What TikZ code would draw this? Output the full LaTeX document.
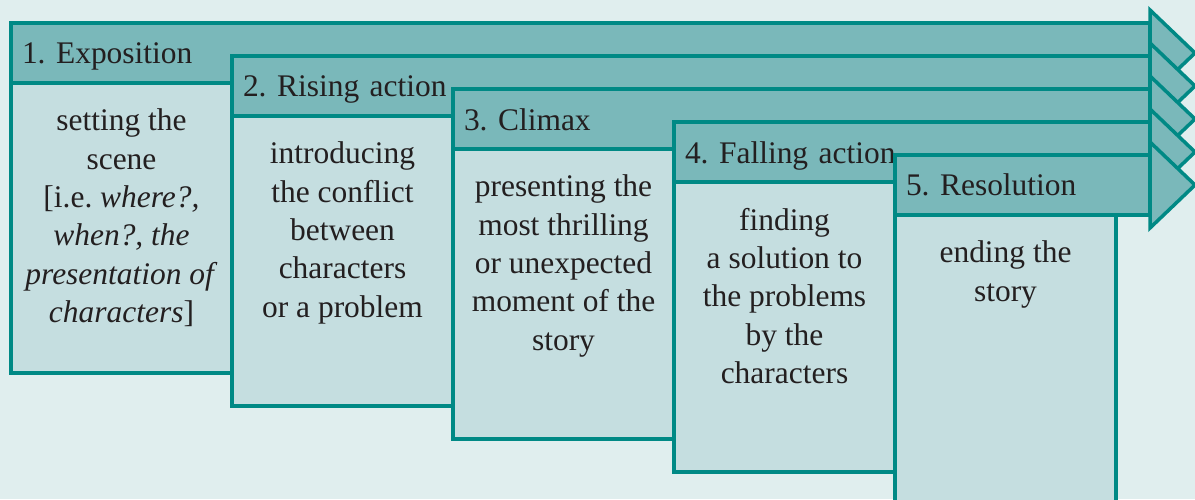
\documentclass[tikz,border=0pt]{standalone}
\usepackage{fontspec}
\setmainfont{Liberation Serif}
\frenchspacing
\usetikzlibrary{positioning}
\definecolor{StageLine}{RGB}{0,137,133}
\definecolor{StageHead}{RGB}{122,184,186}
\definecolor{StageBody}{RGB}{197,222,224}
\definecolor{PageBack}{RGB}{224,238,238}
\definecolor{DarkText}{RGB}{35,31,32}
\newcommand{\stagefont}{\fontsize{17.9pt}{21.85pt}\selectfont}

\begin{document}
\begin{tikzpicture}[
    band/.style={rectangle, draw=StageLine, fill=StageHead, line width=2pt, outer sep=0pt,
        inner xsep=0.22cm, inner ysep=0pt, minimum height=1.2cm, text height=0.5cm, text depth=0.06cm,
        align=left, anchor=north west, font=\stagefont, text=DarkText},
    tip/.style={draw=StageLine, fill=StageHead, line width=2pt},
    stagebody/.style={rectangle, draw=StageLine, fill=StageBody, line width=2pt, outer sep=0pt,
        minimum width=4.42cm, minimum height=5.8cm},
    bodytext/.style={anchor=north, inner sep=0pt, align=center, font=\stagefont, text=DarkText}
]
\fill[PageBack] (0,0) rectangle (23.9,9.98);
\useasboundingbox (0,0) rectangle (23.9,9.98);
\clip (0,0) rectangle (23.9,9.98);
% stage 1
\node[band, text width=22.34cm] (h1) at (0.22,9.52) {1. Exposition};
\draw[tip] ([yshift=0.86cm]h1.east) -- ([xshift=0.9cm]h1.east) -- ([yshift=-0.86cm]h1.east) -- cycle;
\node[stagebody, below right=0pt and 0pt of h1.south west] (b1) {};
\node[bodytext] (t1) at ([yshift=-0.51cm]b1.north) {setting the\\ scene\\ {[}i.e. \textit{where?,}\\ \textit{when?, the}\\ \textit{presentation of}\\ \textit{characters}]};
% stage 2
\node[band, text width=17.92cm] (h2) at (4.64,8.86) {2. Rising action};
\draw[tip] ([yshift=0.86cm]h2.east) -- ([xshift=0.9cm]h2.east) -- ([yshift=-0.86cm]h2.east) -- cycle;
\node[stagebody, below right=0pt and 0pt of h2.south west] (b2) {};
\node[bodytext] (t2) at ([yshift=-0.51cm]b2.north) {introducing\\ the conflict\\ between\\ characters\\ or a problem};
% stage 3
\node[band, text width=13.50cm] (h3) at (9.06,8.20) {3. Climax};
\draw[tip] ([yshift=0.86cm]h3.east) -- ([xshift=0.9cm]h3.east) -- ([yshift=-0.86cm]h3.east) -- cycle;
\node[stagebody, below right=0pt and 0pt of h3.south west] (b3) {};
\node[bodytext] (t3) at ([yshift=-0.51cm]b3.north) {presenting the\\ most thrilling\\ or unexpected\\ moment of the\\ story};
% stage 4
\node[band, text width=9.08cm] (h4) at (13.48,7.54) {4. Falling action};
\draw[tip] ([yshift=0.86cm]h4.east) -- ([xshift=0.9cm]h4.east) -- ([yshift=-0.86cm]h4.east) -- cycle;
\node[stagebody, below right=0pt and 0pt of h4.south west] (b4) {};
\node[bodytext] (t4) at ([yshift=-0.51cm]b4.north) {finding\\ a solution to\\ the problems\\ by the\\ characters};
% stage 5
\node[band, text width=4.66cm] (h5) at (17.90,6.88) {5. Resolution};
\draw[tip] ([yshift=0.86cm]h5.east) -- ([xshift=0.9cm]h5.east) -- ([yshift=-0.86cm]h5.east) -- cycle;
\node[stagebody, below right=0pt and 0pt of h5.south west] (b5) {};
\node[bodytext] (t5) at ([yshift=-0.51cm]b5.north) {ending the\\ story};
\end{tikzpicture}
\end{document}
